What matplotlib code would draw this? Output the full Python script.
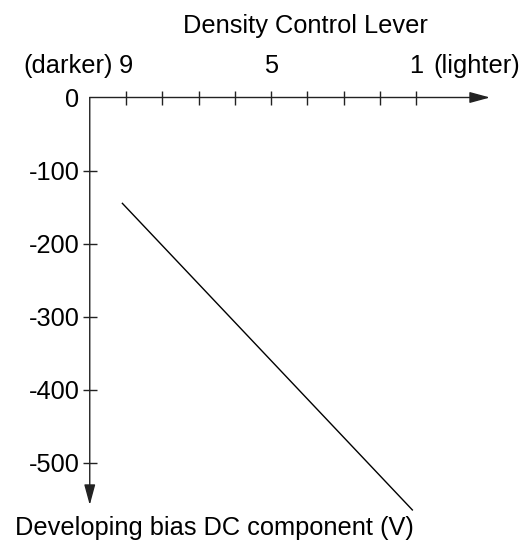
import matplotlib.pyplot as plt

plt.rcParams['font.family'] = ['Liberation Sans', 'DejaVu Sans']

# density lever positions (10 = origin, darker side) and bias voltage
lever = [9.1, 1.1]
bias = [-145, -565]

lever_ticks = [9, 8, 7, 6, 5, 4, 3, 2, 1]
lever_labels = ['9', '5', '1']
bias_ticks = [-100, -200, -300, -400, -500]
bias_labels = ['0', '-100', '-200', '-300', '-400', '-500']

W, H = 519, 542
fig = plt.figure(figsize=(W / 100, H / 100), dpi=100)
ax = fig.add_axes([0, 0, 1, 1])
ax.axis('off')

# pixel layout of the hand-drawn axes
x0, dx = 89.75, 36.25      # px of lever 10, px per lever step
y0, dy = 97.5, 0.73        # px of 0 V, px per volt
ax.set_xlim(10 + x0 / dx, 10 - (W - x0) / dx)
ax.set_ylim(-(H - y0) / dy, y0 / dy)

fs = 18.3
axc = '#222222'
arrow = dict(arrowstyle='-|>,head_length=1.25,head_width=0.34',
             color=axc, lw=1, shrinkA=0, shrinkB=0)
# horizontal axis (lever) and vertical axis (voltage)
ax.annotate('', xy=(10 - (490 - x0) / dx, 0), xytext=(10, 0), arrowprops=arrow)
ax.annotate('', xy=(10, -(505 - y0) / dy), xytext=(10, 0), arrowprops=arrow)

ax.plot(lever_ticks, [0] * len(lever_ticks), ls='none', marker='|',
        ms=10, mew=1, color=axc)
ax.plot([10] * len(bias_ticks), bias_ticks, ls='none', marker='_',
        ms=10, mew=1, color=axc)

for lab in lever_labels:
    ax.text(int(lab), (y0 - 73) / dy, lab, fontsize=fs, ha='center',
            va='baseline')
for lab in bias_labels:
    ax.text(10 + 10.5 / dx, int(lab), lab, fontsize=fs, ha='right',
            va='center_baseline')

fig.text(113 / W, 1 - 73 / H, '(darker)', fontsize=fs, ha='right',
         va='baseline')
fig.text(433 / W, 1 - 73 / H, '(lighter)', fontsize=fs, ha='left',
         va='baseline')
fig.text(305 / W, 1 - 33 / H, 'Density Control Lever', fontsize=fs,
         ha='center', va='baseline')
fig.text(214 / W, 1 - 535 / H, 'Developing bias DC component (V)',
         fontsize=fs, ha='center', va='baseline')

ax.plot(lever, bias, color='black', lw=1)

fig.savefig('out.png', dpi=100)
